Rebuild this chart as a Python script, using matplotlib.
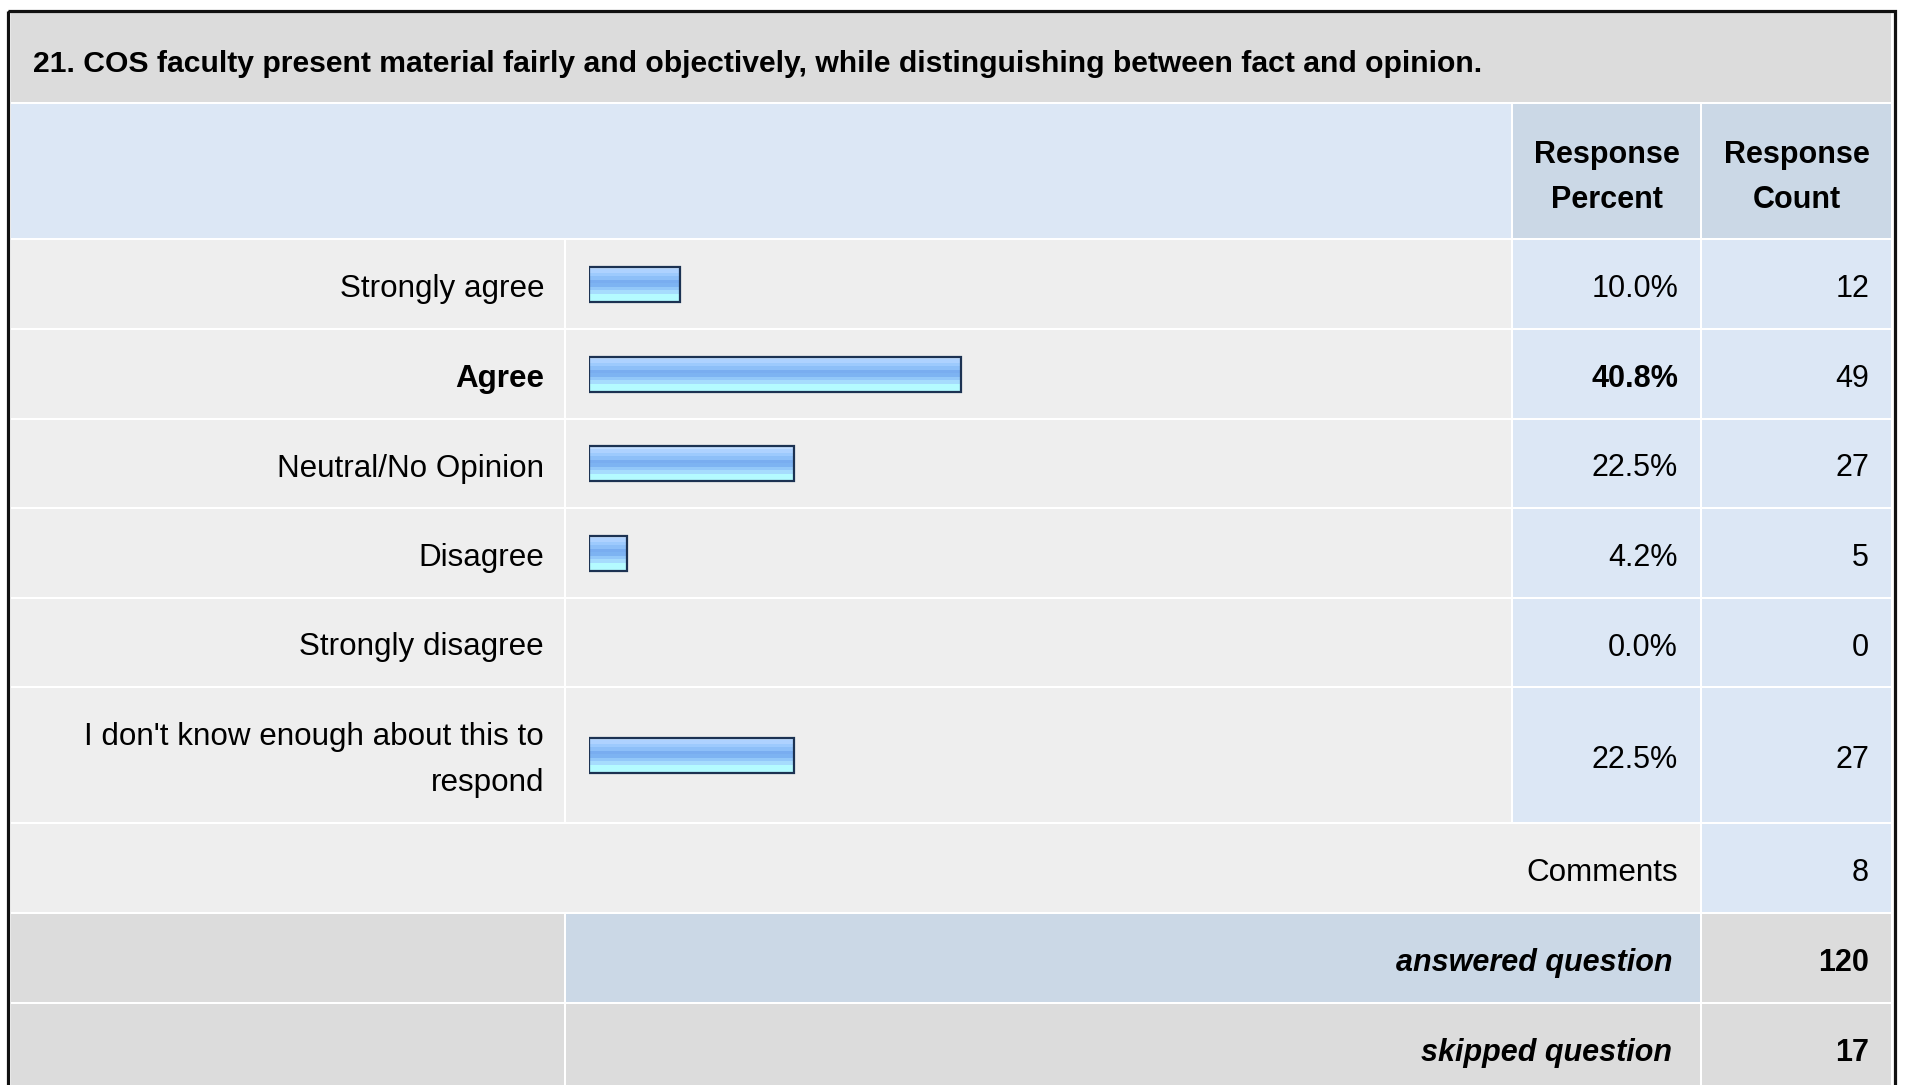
import matplotlib
matplotlib.use("Agg")
import matplotlib.pyplot as plt
from matplotlib.patches import Rectangle
from matplotlib.colors import LinearSegmentedColormap
import numpy as np

plt.rcParams['font.family'] = ['Liberation Sans', 'DejaVu Sans']

# survey data
question = "21. COS faculty present material fairly and objectively, while distinguishing between fact and opinion."
answer_options = ["Strongly agree", "Agree", "Neutral/No Opinion", "Disagree",
                  "Strongly disagree", "I don't know enough about this to\nrespond"]
response_percent = [10.0, 40.8, 22.5, 4.2, 0.0, 22.5]
response_count = [12, 49, 27, 5, 0, 27]
comments_count = 8
answered_question = 120
skipped_question = 17

# page layout in pixels
W, H = 1907, 1085
col_edges = [10, 565, 1512, 1701, 1892]
row_edges = [239, 329, 419, 508, 598, 687, 823]
title_row = (12, 103)
header_row = (103, 239)
comments_row = (823, 913)
answered_row = (913, 1003)
skipped_row = (1003, 1095)
dy = 5  # text baseline nudge

title_bg = "#dcdcdc"
header_bg = "#dce7f5"
header_col_bg = "#cbd8e6"
row_bg = "#eeeeee"
num_bg = "#dce7f5"
foot_gray = "#dcdcdc"
foot_blue = "#cbd8e6"
fs = 22
lfs = 22.6

fig = plt.figure(figsize=(W / 100, H / 100), dpi=100)
fig.patch.set_facecolor("white")
ax = fig.add_axes([0, 0, 1, 1])
ax.set_xlim(0, W)
ax.set_ylim(H, 0)
ax.axis("off")


def cell(x0, x1, y0, y1, color):
    ax.add_patch(Rectangle((x0 + 1, y0 + 1), x1 - x0 - 2, y1 - y0 - 2,
                           facecolor=color, edgecolor="none", zorder=1))


# outer frame
ax.add_patch(Rectangle((7.5, 10.5), 1887, 1100, facecolor="none",
                       edgecolor="#111111", linewidth=2.3, zorder=5))

# title and header
cell(col_edges[0], col_edges[4], *title_row, title_bg)
ax.text(33, 61 + 3, question, fontsize=21.7, fontweight="bold", ha="left", va="center")
cell(col_edges[0], col_edges[2], *header_row, header_bg)
cell(col_edges[2], col_edges[3], *header_row, header_col_bg)
cell(col_edges[3], col_edges[4], *header_row, header_col_bg)
for x, word in [((col_edges[2] + col_edges[3]) / 2, "Percent"),
                ((col_edges[3] + col_edges[4]) / 2, "Count")]:
    ax.text(x, 151 + 4, "Response", fontsize=fs, fontweight="bold", ha="center", va="center")
    ax.text(x, 196 + 4, word, fontsize=fs, fontweight="bold", ha="center", va="center")

# answer rows
best = int(np.argmax(response_percent))
centers = []
for i, label in enumerate(answer_options):
    y0, y1 = row_edges[i], row_edges[i + 1]
    yc = (y0 + y1) / 2
    centers.append(yc)
    cell(col_edges[0], col_edges[1], y0, y1, row_bg)
    cell(col_edges[1], col_edges[2], y0, y1, row_bg)
    cell(col_edges[2], col_edges[3], y0, y1, num_bg)
    cell(col_edges[3], col_edges[4], y0, y1, num_bg)
    weight = "bold" if i == best else "normal"
    lines = label.split("\n")
    for k, line in enumerate(lines):
        ly = yc + (k - (len(lines) - 1) / 2) * 45 + dy
        ax.text(544, ly, line, fontsize=lfs, fontweight=weight, ha="right", va="center")
    ax.text(1678, yc + dy, f"{response_percent[i]:.1f}%", fontsize=fs, fontweight=weight,
            ha="right", va="center")
    ax.text(1869, yc + dy, str(response_count[i]), fontsize=fs, ha="right", va="center")

# footer rows
cell(col_edges[0], col_edges[3], *comments_row, row_bg)
cell(col_edges[3], col_edges[4], *comments_row, num_bg)
yc = sum(comments_row) / 2 + dy
ax.text(1678, yc, "Comments", fontsize=lfs, ha="right", va="center")
ax.text(1869, yc, str(comments_count), fontsize=fs, ha="right", va="center")

for (y0, y1), mid_color, label, value in [
        (answered_row, foot_blue, "answered question", answered_question),
        (skipped_row, foot_gray, "skipped question", skipped_question)]:
    cell(col_edges[0], col_edges[1], y0, y1, foot_gray)
    cell(col_edges[1], col_edges[3], y0, y1, mid_color)
    cell(col_edges[3], col_edges[4], y0, y1, foot_gray)
    yc = y0 + 45 + dy
    ax.text(1672, yc, label, fontsize=fs, fontweight="bold", style="italic",
            ha="right", va="center")
    ax.text(1869, yc, str(value), fontsize=fs, fontweight="bold", ha="right", va="center")

# bars
bax = fig.add_axes([588.5 / W, 0, 912 / W, 1])
bax.axis("off")
bar_cmap = LinearSegmentedColormap.from_list(
    "bar", ["#c2deff", "#aed2ff", "#9dcafd", "#8dbff8", "#79adf0",
            "#7db3f2", "#93c8f9", "#a6dcfd", "#b4fbff", "#b4fbff"], N=10)
grad = np.linspace(0, 1, 10).reshape(-1, 1)
bars = bax.barh(centers, response_percent, height=35, left=0, color="none",
                edgecolor="#1c3252", linewidth=1.6, zorder=3)
for rect, pct in zip(bars, response_percent):
    if pct <= 0:
        rect.set_visible(False)
        continue
    y = rect.get_y()
    img = bax.imshow(grad, cmap=bar_cmap, aspect="auto", interpolation="nearest",
                     extent=[0, pct, y + rect.get_height(), y], zorder=2)
    img.set_clip_path(rect)
bax.set_xlim(0, 100)
bax.set_ylim(H, 0)

fig.savefig("out.png", dpi=100, facecolor="white")
